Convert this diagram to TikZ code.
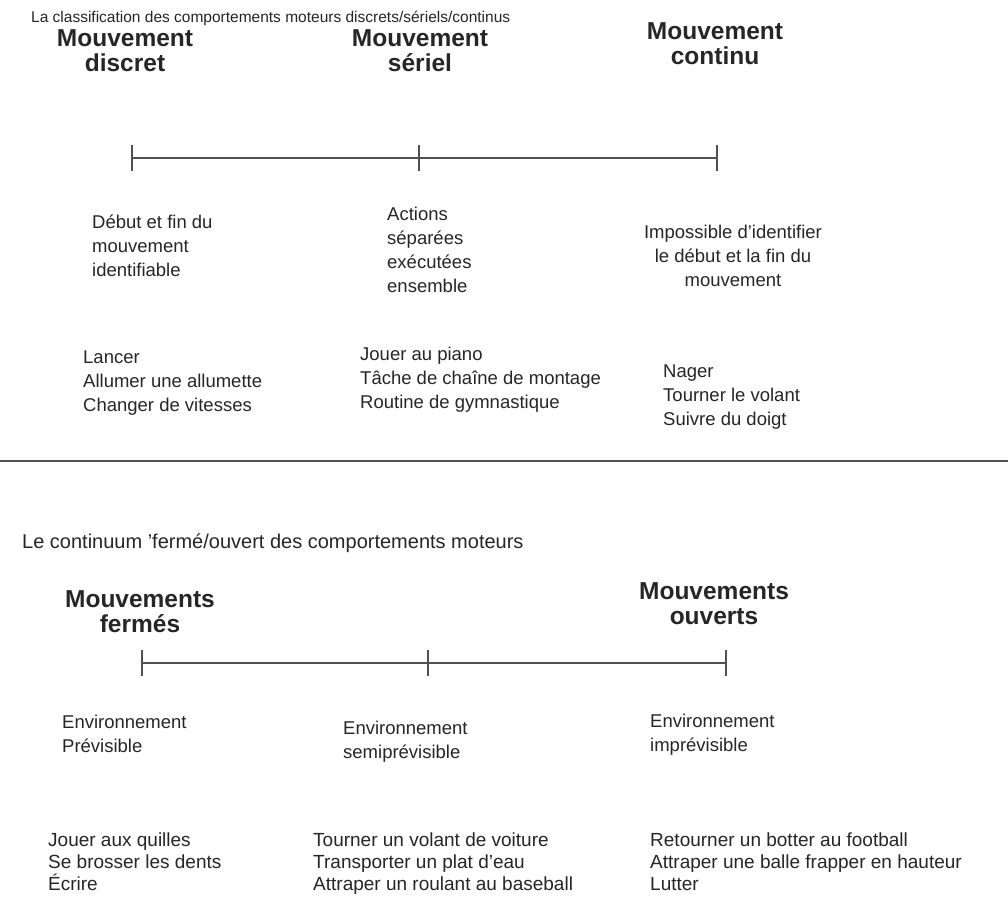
\documentclass[tikz,border=0pt]{standalone}
\usepackage{fontspec}
\setmainfont{Liberation Sans}
\usetikzlibrary{positioning}
\definecolor{ink}{HTML}{262626}
\definecolor{rule}{HTML}{505050}
\tikzset{t/.style={font=\fontsize{15.5}{20}\selectfont,text=ink,inner sep=0pt,anchor=west},
            h/.style={font=\fontsize{24.5}{25.5}\selectfont\bfseries,text=ink,inner sep=0pt,align=center,anchor=north},
            l/.style={font=\fontsize{18.5}{24}\selectfont,text=ink,inner sep=0pt,align=left,anchor=north west},
            lc/.style={font=\fontsize{18.5}{24}\selectfont,text=ink,inner sep=0pt,align=center,anchor=north},
            ax/.style={draw=rule,line width=2pt},
            tk/.style={draw=rule,line width=1.6pt}}

\begin{document}
\begin{tikzpicture}[x=1pt,y=-1pt]
\useasboundingbox[fill=white] (0,0) rectangle (1008,900);
\node[t] at (31,18)(t1){La classification des comportements moteurs discrets/sériels/continus};
\node[h] at (125,29)(h1){Mouvement\\discret};
\node[h] at (420,29)(h2){Mouvement\\sériel};
\node[h] at (715,22)(h3){Mouvement\\continu};
\coordinate (a1) at (132,158);
\coordinate (a2) at (419,158);
\coordinate (a3) at (717,158);
\draw[ax] (a1) -- (a2) -- (a3);
\foreach \p in {a1,a2,a3} \draw[tk] ([yshift=13]\p) -- ([yshift=-13]\p);
\node[l] at (92,215)(d1){Début et fin du\\mouvement\\identifiable};
\node[l] at (387,207)(d2){Actions\\séparées\\exécutées\\ensemble};
\node[lc] at (733,225)(d3){Impossible d'identifier\\le début et la fin du\\mouvement};
\node[l] at (83,351)(e1){Lancer\\Allumer une allumette\\Changer de vitesses};
\node[l] at (360,347)(e2){Jouer au piano\\Tâche de chaîne de montage\\Routine de gymnastique};
\node[l] at (663,365)(e3){Nager\\Tourner le volant\\Suivre du doigt};
\coordinate (s1) at (0,461);
\coordinate (s2) at (1008,461);
\draw[ax] (s1) -- (s2);
\node[t,font=\fontsize{20}{22}\selectfont] at (22,543)(t2){Le continuum 'fermé/ouvert des comportements moteurs};
\node[h] at (140,590)(h4){Mouvements\\fermés};
\node[h] at (714,582)(h5){Mouvements\\ouverts};
\coordinate (b1) at (142,663);
\coordinate (b2) at (428,663);
\coordinate (b3) at (726,663);
\draw[ax] (b1) -- (b2) -- (b3);
\foreach \p in {b1,b2,b3} \draw[tk] ([yshift=13]\p) -- ([yshift=-13]\p);
\node[l] at (62,715)(f1){Environnement\\Prévisible};
\node[l] at (343,721)(f2){Environnement\\semiprévisible};
\node[l] at (650,714)(f3){Environnement\\imprévisible};
\node[l,font=\fontsize{19}{22}\selectfont] at (48,833)(g1){Jouer aux quilles\\Se brosser les dents\\Écrire};
\node[l,font=\fontsize{19}{22}\selectfont] at (313,833)(g2){Tourner un volant de voiture\\Transporter un plat d'eau\\Attraper un roulant au baseball};
\node[l,font=\fontsize{19}{22}\selectfont] at (650,833)(g3){Retourner un botter au football\\Attraper une balle frapper en hauteur\\Lutter};
\end{tikzpicture}
\end{document}
